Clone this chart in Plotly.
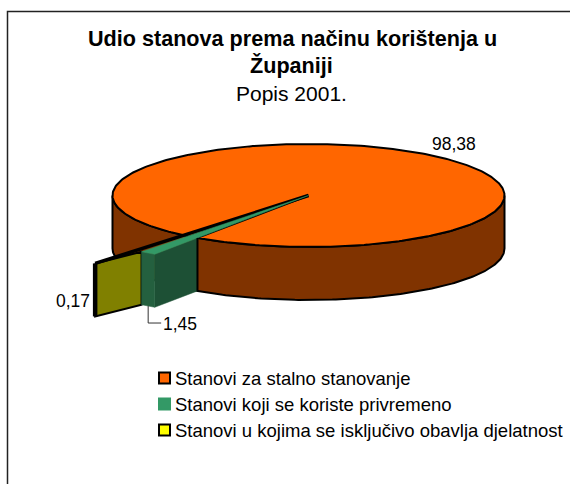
import math
import plotly.graph_objects as go

categories = ["Stanovi za stalno stanovanje", "Stanovi koji se koriste privremeno",
              "Stanovi u kojima se isključivo obavlja djelatnost"]
values = [98.38, 1.45, 0.17]
value_labels = ["98,38", "1,45", "0,17"]
title_lines = ["Udio stanova prema načinu korištenja u", "Županiji"]
subtitle = "Popis 2001."

# projection of the pie disc, in page pixels
CX, CY, RX, RY, DEPTH = 308.5, 195.5, 196.0, 51.5, 53.0
BOUNDARY = 55.5                 # degrees from the -x axis towards the viewer
ANGLE_SCALE = [1.0, 0.66, 2.6]  # foreshortening of the thin slices
SLICE_RADIUS = [1.0, 1.385, 1.71]

DARK = "#000000"
TOP = ["#FF6600", "#339966", "#FFFF00"]
SIDE = ["#803300", "#1D5035", "#808000"]
FACE2 = "#24603F"
FONT = "Liberation Sans, Arial, sans-serif"


def polar(deg, r=1.0):
    a = math.radians(deg)
    return CX - RX * r * math.cos(a), CY + RY * r * math.sin(a)


def drop(pts):
    return [(x, y + DEPTH) for x, y in pts]


def poly(pts, color, line=DARK, width=0):
    xs = [p[0] for p in pts] + [pts[0][0]]
    ys = [p[1] for p in pts] + [pts[0][1]]
    return go.Scatter(x=xs, y=ys, mode="lines", fill="toself", fillcolor=color,
                      line=dict(color=line if width else color, width=width or 0.5),
                      hoverinfo="skip", showlegend=False)


def stroke(pts, color=DARK, width=2):
    return go.Scatter(x=[p[0] for p in pts], y=[p[1] for p in pts], mode="lines",
                      line=dict(color=color, width=width), hoverinfo="skip", showlegend=False)


fig = go.Figure()

green_w = values[1] * 3.6 * ANGLE_SCALE[1]
olive_w = values[2] * 3.6 * ANGLE_SCALE[2]
a_green = BOUNDARY - green_w
a_olive = a_green - olive_w

# main slice: side wall of the whole near half, then the notched top
near_arc = [polar(a) for a in range(0, 181)]
fig.add_trace(poly(near_arc + drop(near_arc)[::-1], SIDE[0], width=2))
top_arc = [polar(BOUNDARY + i) for i in range(0, 361 - 3)]
fig.add_trace(poly(top_arc + [(CX, CY)], TOP[0], width=2))

# olive slice cut face
o_in, o_out = polar(a_green, SLICE_RADIUS[1]), polar(a_olive, SLICE_RADIUS[2])
fig.add_trace(poly([o_out, o_in] + drop([o_in, o_out]), SIDE[2], width=2))
fig.add_trace(stroke([o_out, drop([o_out])[0]], width=4.5))
fig.add_trace(stroke([(CX, CY), o_out], width=3.5))

# green slice
g_a = polar(BOUNDARY, SLICE_RADIUS[0])
g_b = polar(BOUNDARY, SLICE_RADIUS[1])
g_c = polar(a_green, SLICE_RADIUS[1])
fig.add_trace(poly([g_a, g_b] + drop([g_b, g_a]), SIDE[1]))
fig.add_trace(poly([g_b, g_c] + drop([g_c, g_b]), FACE2))
fig.add_trace(poly([(CX, CY), g_a, g_b, g_c], TOP[1]))
fig.add_trace(stroke([g_a, drop([g_a])[0]], width=2))

# leader for the 1,45 label
lead_x = (g_b[0] + g_c[0]) / 2
lead_y = (g_b[1] + g_c[1]) / 2 + DEPTH
fig.add_trace(stroke([(lead_x, lead_y), (lead_x, lead_y + 17), (lead_x + 13, lead_y + 17)],
                     color="#333333", width=1))

# legend entries
LEG_MARK_X, LEG_TEXT_X, LEG_Y0, LEG_STEP = 164.5, 172.5, 378, 26
annotations = []
for i, (name, color, edge) in enumerate(zip(categories, TOP, [DARK, TOP[1], DARK])):
    y = LEG_Y0 + i * LEG_STEP
    fig.add_trace(go.Scatter(x=[LEG_MARK_X], y=[y], mode="markers", name=name,
                             marker=dict(symbol="square", size=11, color=color,
                                         line=dict(color=edge, width=2)),
                             hoverinfo="skip", showlegend=False))
    annotations.append(dict(x=LEG_TEXT_X, y=y, text=name, xref="x", yref="y", showarrow=False,
                            xanchor="left", font=dict(size=18.5, color="#000000", family=FONT)))

notes = [
    (292, 38, "<b>%s</b>" % title_lines[0], 21.6),
    (291, 65, "<b>%s</b>" % title_lines[1], 21.6),
    (291, 93, subtitle, 21),
    (454, 144, value_labels[0], 17.5),
    (73, 301, value_labels[2], 17.5),
    (180, 324, value_labels[1], 17.5),
]
annotations += [dict(x=x, y=y, text=t, xref="x", yref="y", showarrow=False,
                     font=dict(size=s, color="#000000", family=FONT)) for x, y, t, s in notes]

fig.update_layout(
    width=570, height=484, margin=dict(l=0, r=0, t=0, b=0),
    paper_bgcolor="white", plot_bgcolor="white",
    xaxis=dict(range=[0, 570], visible=False, fixedrange=True),
    yaxis=dict(range=[484, 0], visible=False, fixedrange=True),
    annotations=annotations,
    shapes=[dict(type="rect", xref="paper", yref="paper", x0=7.5 / 570, y0=1 - 11.5 / 484,
                 x1=1.02, y1=-0.02, line=dict(color="#222222", width=1.5),
                 fillcolor="rgba(0,0,0,0)")],
    showlegend=False,
)
fig.write_html("out.html", config=dict(displayModeBar=False),
               post_script="document.body.style.margin='0';document.documentElement.style.overflow='hidden';")
